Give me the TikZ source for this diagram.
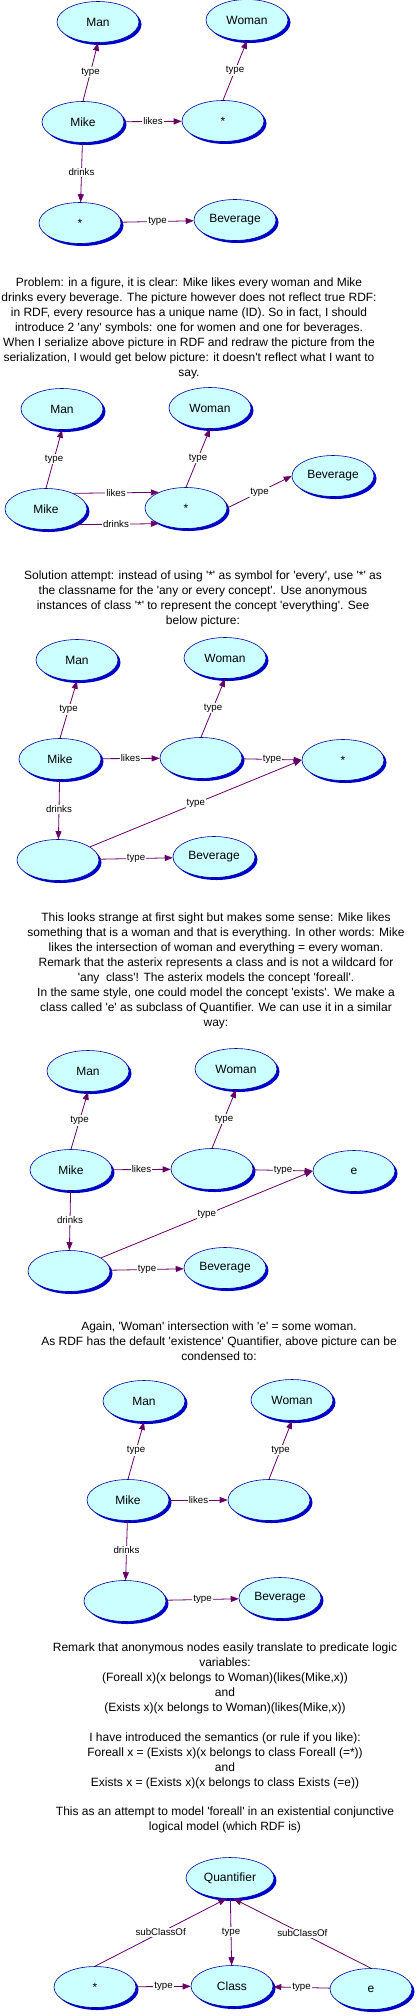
\documentclass[tikz,border=0pt]{standalone}
\usepackage{fontspec}
\setmainfont{Liberation Sans}[Ligatures=TeXOff]
\usetikzlibrary{shapes.geometric,shadows,arrows.meta}
\definecolor{resfill}{HTML}{CCFFFF}
\definecolor{resline}{HTML}{0000A0}
\definecolor{resshade}{HTML}{0000CC}
\definecolor{relcol}{HTML}{660066}
\begin{document}
\begin{tikzpicture}[x=1pt, y=-1pt, line join=round, line cap=round,
    res/.style={ellipse, draw=resline, fill=resfill, line width=0.6pt,
        minimum width=82pt, minimum height=41pt, inner sep=0pt,
        font=\fontsize{12}{14}\selectfont,
        drop shadow={shadow xshift=2.5pt, shadow yshift=-2.5pt, fill=resshade, opacity=1}},
    rel/.style={draw=relcol, line width=0.8pt, -{Triangle[length=8pt, width=6pt]}},
    lbl/.style={fill=white, inner sep=1pt, font=\fontsize{9.7}{11}\selectfont},
    para/.style={align=center, anchor=north, inner sep=0pt, font=\fontsize{12}{14.9}\selectfont}]
    \useasboundingbox (0,0) rectangle (416,2016);
    \fill[white] (0,0) rectangle (416,2016);

    \node[res] (man1) at (98,22) {Man};
    \node[res] (woman1) at (247,20) {Woman};
    \node[res] (mike1) at (83,122) {Mike};
    \node[res] (star1) at (223,121) {*};
    \node[res] (anyb1) at (80,223) {*};
    \node[res] (bev1) at (235,220) {Beverage};
    \draw[rel] (mike1.north) -- node[lbl] {type} (man1.south);
    \draw[rel] (star1.north) -- node[lbl] {type} (woman1.south);
    \draw[rel] (mike1) -- node[lbl] {likes} (star1);
    \draw[rel] (mike1) -- node[lbl] {drinks} (anyb1);
    \draw[rel] (anyb1) -- node[lbl] {type} (bev1);

    \node[para] (prob) at (189,278) {Problem: in a figure, it is clear: Mike likes every woman and Mike\\
        drinks every beverage. The picture however does not reflect true RDF:\\
        in RDF, every resource has a unique name (ID). So in fact, I should\\
        introduce 2 'any' symbols: one for women and one for beverages.\\
        When I serialize above picture in RDF and redraw the picture from the\\
        serialization, I would get below picture: it doesn't reflect what I want to\\
        say.};

    \node[res] (man2) at (62,409) {Man};
    \node[res] (woman2) at (210,408) {Woman};
    \node[res] (bev2) at (333,476) {Beverage};
    \node[res] (mike2) at (46,509) {Mike};
    \node[res] (star2) at (186,508) {*};
    \draw[rel] (mike2.north) -- node[lbl] {type} (man2.south);
    \draw[rel] (star2.north) -- node[lbl] {type} (woman2.south);
    \draw[rel] (mike2.30) -- node[lbl] {likes} (star2.150);
    \draw[rel] (mike2.-30) -- node[lbl] {drinks} (star2.-150);
    \draw[rel] (star2.east) -- node[lbl] {type} (bev2.west);

    \node[para] (sol) at (203,571) {Solution attempt: instead of using '*' as symbol for 'every', use '*' as\\
        the classname for the 'any or every concept'. Use anonymous\\
        instances of class '*' to represent the concept 'everything'. See\\
        below picture:};

    \foreach \dx/\dy/\cls/\k in {0/0/{*}/3, 11/411/e/4} {
        \begin{scope}[shift={(\dx,\dy)}]
            \node[res] (man\k) at (77,660) {Man};
            \node[res] (woman\k) at (225,658) {Woman};
            \node[res] (mike\k) at (60,759) {Mike};
            \node[res] (anya\k) at (201,758) {};
            \node[res] (cls\k) at (343,760) {\cls};
            \node[res] (anyb\k) at (58,860) {};
            \node[res] (bev\k) at (214,857) {Beverage};
            \draw[rel] (mike\k.north) -- node[lbl] {type} (man\k.south);
            \draw[rel] (anya\k.north) -- node[lbl] {type} (woman\k.south);
            \draw[rel] (mike\k) -- node[lbl] {likes} (anya\k);
            \draw[rel] (anya\k) -- node[lbl] {type} (cls\k.west);
            \draw[rel] (mike\k) -- node[lbl] {drinks} (anyb\k);
            \draw[rel] (anyb\k) -- node[lbl] {type} (cls\k.west);
            \draw[rel] (anyb\k) -- node[lbl] {type} (bev\k);
        \end{scope}
    }

    \node[para] (odd) at (216,913) {This looks strange at first sight but makes some sense: Mike likes\\
        something that is a woman and that is everything. In other words: Mike\\
        likes the intersection of woman and everything = every woman.\\
        Remark that the asterix represents a class and is not a wildcard for\\
        'any\ \ class'! The asterix models the concept 'foreall'.\\
        In the same style, one could model the concept 'exists'. We make a\\
        class called 'e' as subclass of Quantifier. We can use it in a similar\\
        way:};

    \node[para] (again) at (219,1322) {Again, 'Woman' intersection with 'e' = some woman.\\
        As RDF has the default 'existence' Quantifier, above picture can be\\
        condensed to:};

    \node[res] (man5) at (144,1401) {Man};
    \node[res] (woman5) at (292,1400) {Woman};
    \node[res] (mike5) at (128,1500) {Mike};
    \node[res] (anya5) at (269,1500) {};
    \node[res] (anyb5) at (125,1601) {};
    \node[res] (bev5) at (280,1598) {Beverage};
    \draw[rel] (mike5.north) -- node[lbl] {type} (man5.south);
    \draw[rel] (anya5.north) -- node[lbl] {type} (woman5.south);
    \draw[rel] (mike5) -- node[lbl] {likes} (anya5);
    \draw[rel] (mike5) -- node[lbl] {drinks} (anyb5);
    \draw[rel] (anyb5) -- node[lbl] {type} (bev5);

    \node[para] (logic) at (225,1643) {Remark that anonymous nodes easily translate to predicate logic\\
        variables:\\
        (Foreall x)(x belongs to Woman)(likes(Mike,x))\\
        and\\
        (Exists x)(x belongs to Woman)(likes(Mike,x))\\
        ~\\
        I have introduced the semantics (or rule if you like):\\
        Foreall x = (Exists x)(x belongs to class Foreall (=*))\\
        and\\
        Exists x = (Exists x)(x belongs to class Exists (=e))\\
        ~\\
        This as an attempt to model 'foreall' in an existential conjunctive\\
        logical model (which RDF is)};

    \node[res, minimum width=88pt] (quant) at (230,1878) {Quantifier};
    \node[res] (star6) at (95,1987) {*};
    \node[res] (class6) at (232,1986) {Class};
    \node[res] (e6) at (371,1989) {e};
    \draw[rel] (star6.north) -- node[lbl] {subClassOf} (quant.-100);
    \draw[rel] (e6.north) -- node[lbl] {subClassOf} (quant.-80);
    \draw[rel] (quant) -- node[lbl] {type} (class6);
    \draw[rel] (star6) -- node[lbl] {type} (class6);
    \draw[rel] (e6) -- node[lbl] {type} (class6);
\end{tikzpicture}
\end{document}
